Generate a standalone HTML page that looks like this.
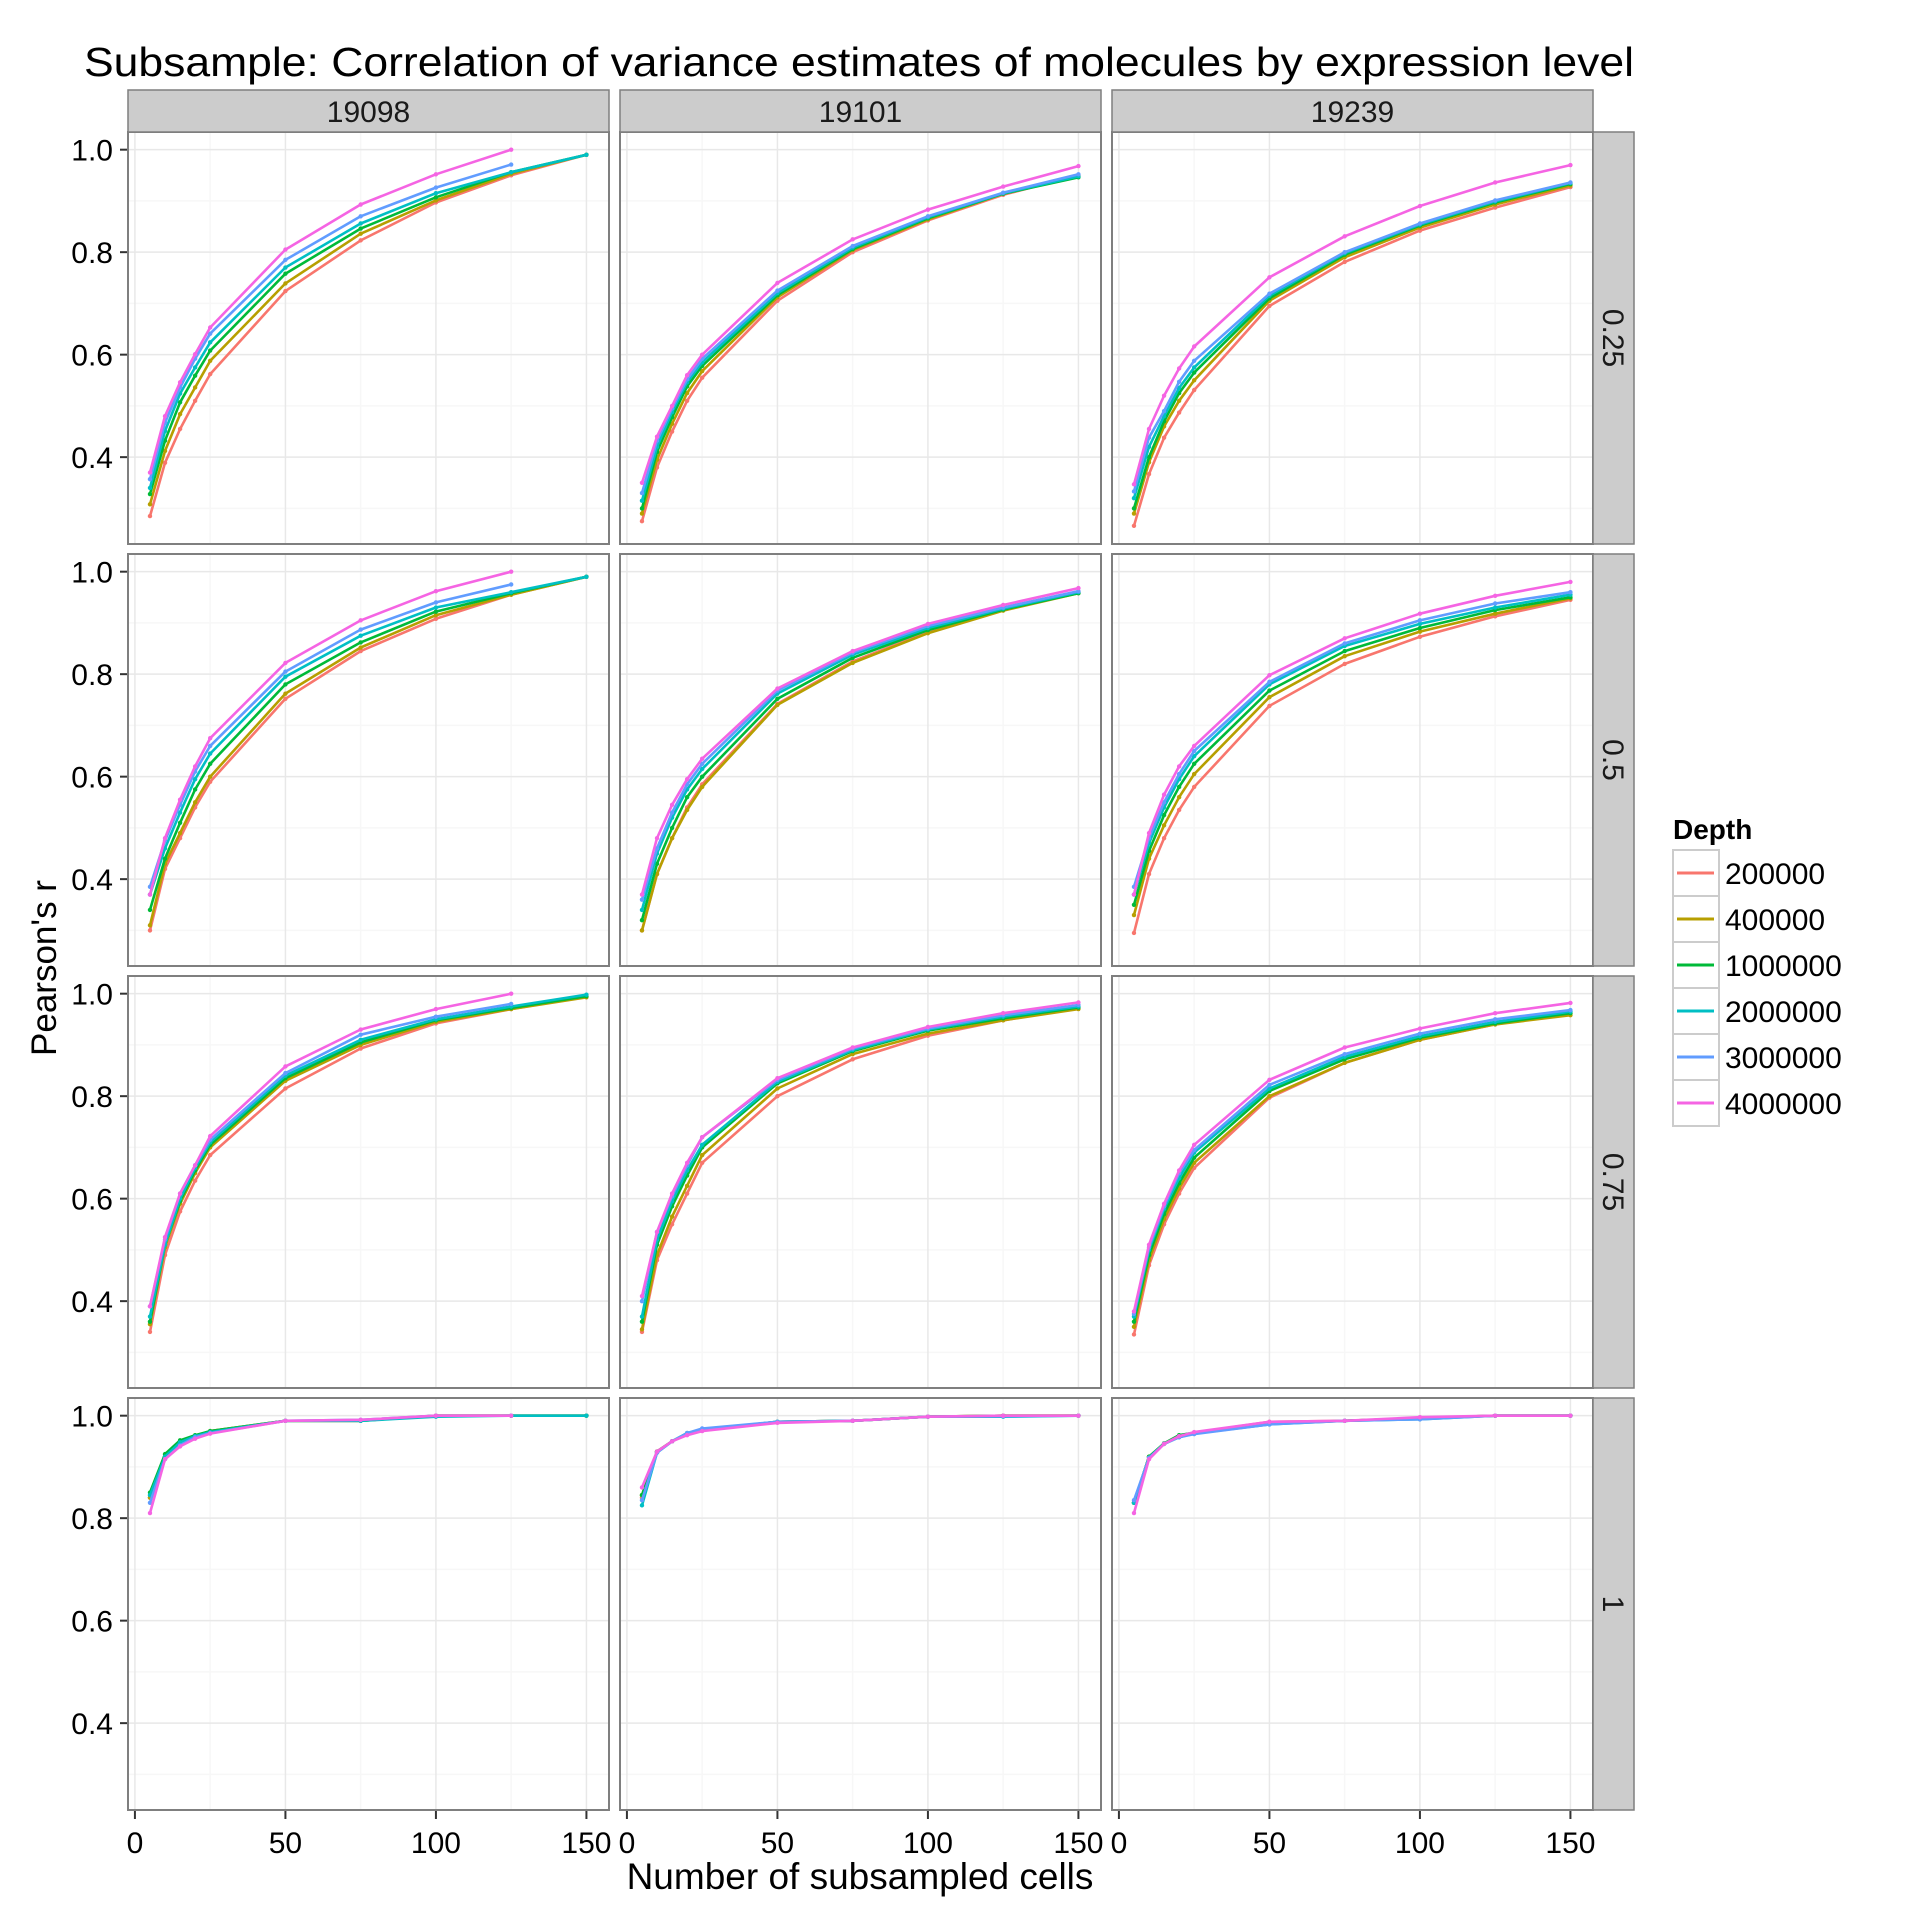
<!DOCTYPE html>
<html><head><meta charset="utf-8"><style>
html,body{margin:0;padding:0;background:#fff}
svg{display:block;font-family:"Liberation Sans",sans-serif}
</style></head><body>
<svg id="chart" width="1920" height="1920" viewBox="0 0 1920 1920" xmlns="http://www.w3.org/2000/svg">
<text x="859" y="76" font-size="41" text-anchor="middle" textLength="1550" lengthAdjust="spacingAndGlyphs">Subsample: Correlation of variance estimates of molecules by expression level</text>
<text x="860" y="1889" font-size="37" text-anchor="middle">Number of subsampled cells</text>
<text transform="translate(56,968) rotate(-90)" font-size="35" text-anchor="middle">Pearson's r</text>
<g id="panels"></g>
<g id="legend"></g>
</svg>
<script>
const xValues = [5,10,15,20,25,50,75,100,125,150];
const depthLabels = ["200000","400000","1000000","2000000","3000000","4000000"];
const columnLabels = ["19098","19101","19239"];
const rowLabels = ["0.25","0.5","0.75","1"];
const yTicks = [0.4,0.6,0.8,1.0];
const xTicks = [0,50,100,150];

// series order: 200000, 400000, 1000000, 2000000, 3000000, 4000000
const r025_19098 = [
 [0.285,0.389,0.455,0.510,0.562,0.724,0.823,0.897,0.950,0.990],
 [0.308,0.412,0.484,0.536,0.588,0.739,0.836,0.901,0.953,0.990],
 [0.328,0.432,0.507,0.559,0.608,0.758,0.846,0.907,0.956,0.990],
 [0.340,0.451,0.524,0.575,0.624,0.770,0.856,0.915,0.956,0.990],
 [0.357,0.467,0.536,0.592,0.641,0.785,0.870,0.926,0.971,null],
 [0.370,0.480,0.546,0.601,0.653,0.805,0.893,0.952,1.000,null]];
const r025_19101 = [
 [0.275,0.380,0.450,0.510,0.555,0.705,0.800,0.862,0.912,0.950],
 [0.290,0.395,0.465,0.525,0.568,0.712,0.804,0.864,0.914,0.948],
 [0.300,0.410,0.478,0.538,0.578,0.716,0.806,0.866,0.914,0.946],
 [0.315,0.420,0.488,0.546,0.585,0.720,0.809,0.868,0.915,0.948],
 [0.330,0.432,0.495,0.552,0.592,0.725,0.812,0.870,0.916,0.952],
 [0.350,0.440,0.500,0.560,0.600,0.740,0.825,0.883,0.928,0.968]];
const r025_19239 = [
 [0.266,0.367,0.438,0.487,0.531,0.695,0.781,0.842,0.887,0.927],
 [0.290,0.390,0.460,0.510,0.550,0.705,0.790,0.848,0.893,0.930],
 [0.300,0.400,0.470,0.525,0.565,0.710,0.795,0.852,0.897,0.933],
 [0.320,0.420,0.480,0.535,0.575,0.715,0.798,0.854,0.899,0.935],
 [0.333,0.438,0.490,0.547,0.588,0.719,0.800,0.856,0.901,0.936],
 [0.347,0.455,0.520,0.573,0.616,0.751,0.831,0.890,0.936,0.970]];
const r05_19098 = [
 [0.300,0.420,0.480,0.540,0.590,0.752,0.845,0.908,0.955,0.990],
 [0.310,0.430,0.490,0.550,0.600,0.762,0.852,0.915,0.955,0.990],
 [0.340,0.440,0.510,0.575,0.625,0.780,0.862,0.922,0.958,0.990],
 [0.370,0.460,0.530,0.595,0.645,0.795,0.875,0.930,0.960,0.990],
 [0.385,0.475,0.545,0.610,0.660,0.805,0.887,0.940,0.975,null],
 [0.370,0.480,0.555,0.620,0.675,0.822,0.905,0.962,1.000,null]];
const r05_19101 = [
 [0.300,0.410,0.480,0.540,0.585,0.742,0.825,0.882,0.925,0.960],
 [0.300,0.410,0.480,0.535,0.580,0.740,0.822,0.880,0.924,0.958],
 [0.320,0.430,0.500,0.560,0.600,0.752,0.832,0.886,0.926,0.958],
 [0.340,0.450,0.520,0.575,0.615,0.762,0.838,0.890,0.928,0.960],
 [0.360,0.460,0.530,0.585,0.625,0.768,0.842,0.894,0.930,0.962],
 [0.370,0.480,0.545,0.595,0.635,0.772,0.845,0.898,0.935,0.968]];
const r05_19239 = [
 [0.295,0.410,0.480,0.535,0.580,0.738,0.820,0.873,0.913,0.945],
 [0.330,0.440,0.505,0.560,0.605,0.755,0.835,0.883,0.918,0.948],
 [0.350,0.455,0.525,0.580,0.625,0.768,0.845,0.890,0.925,0.950],
 [0.370,0.470,0.540,0.595,0.640,0.780,0.855,0.898,0.930,0.955],
 [0.385,0.480,0.550,0.605,0.650,0.785,0.860,0.905,0.938,0.960],
 [0.370,0.490,0.565,0.620,0.660,0.798,0.870,0.918,0.953,0.980]];
const r075_19098 = [
 [0.340,0.490,0.575,0.635,0.685,0.815,0.893,0.942,0.970,0.995],
 [0.355,0.505,0.590,0.650,0.700,0.830,0.900,0.945,0.970,0.993],
 [0.360,0.510,0.595,0.655,0.705,0.835,0.905,0.948,0.972,0.995],
 [0.370,0.510,0.600,0.660,0.710,0.840,0.910,0.950,0.975,0.998],
 [0.390,0.520,0.610,0.665,0.715,0.845,0.920,0.955,0.980,null],
 [0.390,0.525,0.610,0.665,0.722,0.858,0.930,0.970,1.000,null]];
const r075_19101 = [
 [0.340,0.480,0.550,0.610,0.670,0.800,0.872,0.918,0.948,0.972],
 [0.345,0.490,0.565,0.625,0.685,0.815,0.882,0.922,0.948,0.970],
 [0.360,0.510,0.585,0.645,0.700,0.825,0.888,0.928,0.952,0.973],
 [0.370,0.520,0.595,0.655,0.705,0.828,0.890,0.930,0.955,0.975],
 [0.400,0.535,0.605,0.665,0.720,0.832,0.893,0.932,0.958,0.978],
 [0.410,0.535,0.610,0.670,0.720,0.835,0.895,0.935,0.962,0.983]];
const r075_19239 = [
 [0.335,0.470,0.550,0.610,0.660,0.797,0.865,0.910,0.940,0.962],
 [0.350,0.480,0.560,0.620,0.670,0.800,0.865,0.910,0.940,0.958],
 [0.360,0.490,0.570,0.630,0.680,0.810,0.872,0.914,0.942,0.962],
 [0.370,0.500,0.580,0.640,0.690,0.815,0.877,0.917,0.945,0.965],
 [0.375,0.505,0.585,0.650,0.695,0.822,0.882,0.922,0.950,0.968],
 [0.380,0.510,0.590,0.655,0.705,0.832,0.895,0.932,0.962,0.982]];
const r1_19098 = [
 [0.840,0.920,0.950,0.960,0.970,0.990,0.990,1.000,1.000,1.000],
 [0.840,0.920,0.950,0.960,0.970,0.990,0.990,1.000,1.000,1.000],
 [0.850,0.925,0.952,0.962,0.970,0.990,0.990,1.000,1.000,1.000],
 [0.845,0.920,0.948,0.960,0.968,0.990,0.990,0.998,1.000,1.000],
 [0.830,0.915,0.942,0.958,0.966,0.990,0.992,1.000,1.000,null],
 [0.810,0.915,0.940,0.955,0.965,0.990,0.992,1.000,1.000,null]];
const r1_19101 = [
 [0.840,0.930,0.950,0.965,0.972,0.988,0.990,0.998,1.000,1.000],
 [0.845,0.930,0.950,0.965,0.972,0.988,0.990,0.998,1.000,1.000],
 [0.845,0.930,0.950,0.966,0.973,0.988,0.990,0.998,1.000,1.000],
 [0.825,0.928,0.950,0.966,0.973,0.988,0.990,0.998,0.998,1.000],
 [0.835,0.928,0.950,0.966,0.975,0.988,0.990,0.998,0.999,1.000],
 [0.860,0.930,0.950,0.962,0.970,0.986,0.990,0.998,1.000,1.000]];
const r1_19239 = [
 [0.830,0.920,0.945,0.960,0.967,0.988,0.990,0.995,1.000,1.000],
 [0.830,0.920,0.945,0.960,0.967,0.985,0.990,0.995,1.000,1.000],
 [0.830,0.920,0.946,0.962,0.967,0.985,0.990,0.995,1.000,1.000],
 [0.830,0.918,0.945,0.958,0.965,0.983,0.990,0.993,1.000,1.000],
 [0.835,0.918,0.945,0.958,0.964,0.983,0.990,0.993,1.000,1.000],
 [0.810,0.915,0.945,0.960,0.968,0.988,0.990,0.997,1.000,1.000]];

const panelData = [
 [r025_19098, r025_19101, r025_19239],
 [r05_19098, r05_19101, r05_19239],
 [r075_19098, r075_19101, r075_19239],
 [r1_19098, r1_19101, r1_19239]];

const colors = ["#F8766D","#B79F00","#00BA38","#00BFC4","#619CFF","#F564E3"];
const NS = "http://www.w3.org/2000/svg";
const colLeft = [128, 620, 1112], panelW = 481;
const rowTop = [132, 554, 976, 1398], panelH = 412;
const yMin = 0.2305, yMax = 1.0345, xMin = -2.3, xMax = 157.5;
function mk(tag, attrs, parent){ const e=document.createElementNS(NS,tag); for(const k in attrs) e.setAttribute(k,attrs[k]); parent.appendChild(e); return e; }
function sx(c, v){ return colLeft[c] + (v - xMin)/(xMax - xMin)*panelW; }
function sy(r, v){ return rowTop[r] + (yMax - v)/(yMax - yMin)*panelH; }

const root = document.getElementById('panels');
for(let r=0;r<4;r++){
 for(let c=0;c<3;c++){
  const g = mk('g',{},root);
  
  
  mk('rect',{x:colLeft[c],y:rowTop[r],width:panelW,height:panelH,fill:'#fff'},g);
  for(let v=0.3; v<1.05; v+=0.2){ const y=sy(r,v); mk('line',{x1:colLeft[c],x2:colLeft[c]+panelW,y1:y,y2:y,stroke:'#f7f7f7','stroke-width':1.5},g); }
  [25,75,125].forEach(v=>{ const x=sx(c,v); mk('line',{x1:x,x2:x,y1:rowTop[r],y2:rowTop[r]+panelH,stroke:'#f7f7f7','stroke-width':1.5},g); });
  yTicks.forEach(v=>{ const y=sy(r,v); mk('line',{x1:colLeft[c],x2:colLeft[c]+panelW,y1:y,y2:y,stroke:'#e8e8e8','stroke-width':1.5},g); });
  xTicks.forEach(v=>{ const x=sx(c,v); mk('line',{x1:x,x2:x,y1:rowTop[r],y2:rowTop[r]+panelH,stroke:'#e8e8e8','stroke-width':1.5},g); });
  const series = panelData[r][c];
  for(let s=0;s<series.length;s++){
   const pts=[];
   series[s].forEach((v,i)=>{ if(v!==null) pts.push([sx(c,xValues[i]), sy(r,v)]); });
   const pl = mk('polyline',{points:pts.map(p=>p[0].toFixed(1)+','+p[1].toFixed(1)).join(' '),fill:'none',stroke:colors[s],'stroke-width':2.6,'stroke-linejoin':'round'},g);
   
   
   pts.forEach(p=>{ mk('circle',{cx:p[0],cy:p[1],r:2.2,fill:colors[s]},g); });
  }
  mk('rect',{x:colLeft[c],y:rowTop[r],width:panelW,height:panelH,fill:'none',stroke:'#7f7f7f','stroke-width':2},g);
  if(r===0){
   const st = mk('g',{},root);
   
   
   mk('rect',{x:colLeft[c],y:90,width:panelW,height:42,fill:'#cccccc',stroke:'#7f7f7f','stroke-width':1.5},st);
   const t = mk('text',{x:colLeft[c]+panelW/2,y:122,'font-size':30,'text-anchor':'middle',fill:'#1a1a1a'},st);
   t.textContent = columnLabels[c];
  }
  if(c===0){
   yTicks.forEach(v=>{
    const y=sy(r,v);
    mk('line',{x1:120,x2:127,y1:y,y2:y,stroke:'#333','stroke-width':2},root);
    const t = mk('text',{x:113,y:y+11,'font-size':30,'text-anchor':'end',fill:'#000'},root);
    
    
    t.textContent = v.toFixed(1);
   });
  }
  if(r===3){
   xTicks.forEach(v=>{
    const x=sx(c,v);
    mk('line',{x1:x,x2:x,y1:rowTop[r]+panelH+1,y2:rowTop[r]+panelH+9,stroke:'#333','stroke-width':2},root);
    const t = mk('text',{x:x,y:1853,'font-size':30,'text-anchor':'middle',fill:'#000'},root);
    
    
    t.textContent = String(v);
   });
  }
 }
 const rs = mk('g',{},root);
 
 
 mk('rect',{x:1593,y:rowTop[r],width:41,height:panelH,fill:'#cccccc',stroke:'#7f7f7f','stroke-width':1.5},rs);
 const cy = rowTop[r]+panelH/2;
 const rt = mk('text',{x:0,y:0,'font-size':30,'text-anchor':'middle',fill:'#1a1a1a',transform:'translate(1603,'+cy+') rotate(90)'},rs);
 rt.textContent = rowLabels[r];
}

const lg = document.getElementById('legend');
const lt = mk('text',{x:1673,y:839,'font-size':28,'font-weight':'bold',fill:'#000'},lg);
lt.textContent = 'Depth';
depthLabels.forEach((d,i)=>{
 const y0 = 850 + i*46;
 const item = mk('g',{},lg);
 
 
 mk('rect',{x:1673,y:y0,width:46,height:46,fill:'#fff',stroke:'#cccccc','stroke-width':2},item);
 mk('line',{x1:1677,x2:1714,y1:y0+23,y2:y0+23,stroke:colors[i],'stroke-width':3},item);
 const t = mk('text',{x:1725,y:y0+34,'font-size':30,fill:'#000'},item);
 t.textContent = d;
});
</script>
</body></html>
